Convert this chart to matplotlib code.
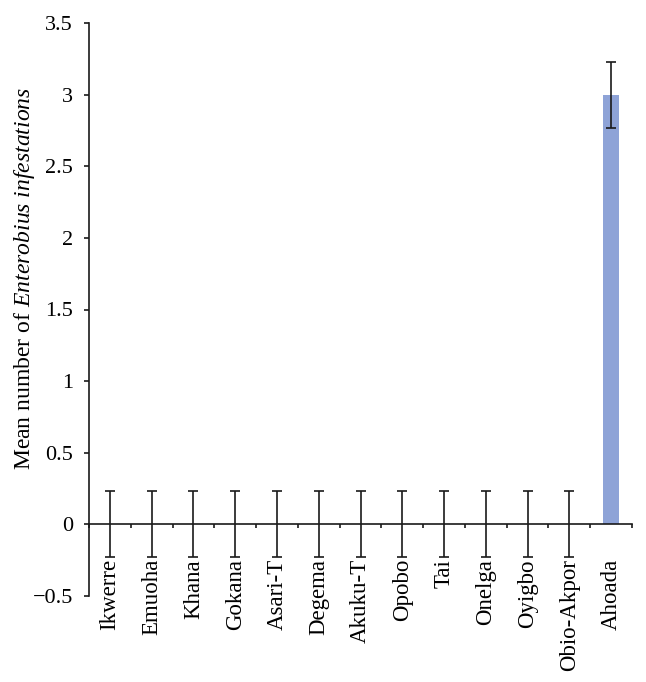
import matplotlib
matplotlib.use("Agg")
import matplotlib.pyplot as plt
import numpy as np

categories = ["Ikwerre", "Emuoha", "Khana", "Gokana", "Asari-T", "Degema", "Akuku-T",
              "Opobo", "Tai", "Onelga", "Oyigbo", "Obio-Akpor", "Ahoada"]
means = [0, 0, 0, 0, 0, 0, 0, 0, 0, 0, 0, 0, 3.0]
errors = [0.23, 0.23, 0.23, 0.23, 0.23, 0.23, 0.23, 0.23, 0.23, 0.23, 0.23, 0.23, 0.23]
yticks = [-0.5, 0, 0.5, 1, 1.5, 2, 2.5, 3, 3.5]
ytick_labels = ["\u22120.5", "0", "0.5", "1", "1.5", "2", "2.5", "3", "3.5"]

plt.rcParams['font.family'] = ['Liberation Serif', 'DejaVu Serif']
plt.rcParams['mathtext.fontset'] = 'custom'
plt.rcParams['mathtext.rm'] = 'Liberation Serif'
plt.rcParams['mathtext.it'] = 'Liberation Serif:italic'

fig = plt.figure(figsize=(6.46, 6.82), dpi=100)
ax = fig.add_axes([89/646, 1-596/682, (632-89)/646, (596-23)/682])

x = np.arange(len(categories))
ax.bar(x, means, width=0.4, color="#8EA3D7", zorder=2)
ax.errorbar(x, means, yerr=errors, fmt='none', ecolor='#1a1a1a', elinewidth=1.2,
            capsize=3.5, capthick=1.2, zorder=3)

ax.set_xlim(-0.5, len(categories) - 0.5)
ax.set_ylim(-0.5, 3.5)
ax.set_yticks(yticks)
ax.set_yticklabels(ytick_labels, fontsize=16)

ax.spines['top'].set_visible(False)
ax.spines['right'].set_visible(False)
ax.spines['bottom'].set_position(('data', 0))
for s in ['left', 'bottom']:
    ax.spines[s].set_linewidth(1.2)
    ax.spines[s].set_color('#1a1a1a')

ax.set_xticks(x)
ax.set_xticklabels(categories, rotation=90, fontsize=16.5, va='top')
ax.tick_params(axis='x', which='major', length=0, pad=25)
ax.set_xticks(np.arange(-0.5, len(categories)), minor=True)
ax.tick_params(axis='x', which='minor', length=3, width=1.2, direction='out', color='#1a1a1a')
ax.tick_params(axis='y', length=3.5, width=1.2, direction='out', pad=8, color='#1a1a1a')

ax.set_ylabel(r"Mean number of $\mathit{Enterobius}$ $\mathit{infestations}$", fontsize=17)
ax.yaxis.set_label_coords(-0.095, 0.555)

fig.savefig("out.png", dpi=100)
